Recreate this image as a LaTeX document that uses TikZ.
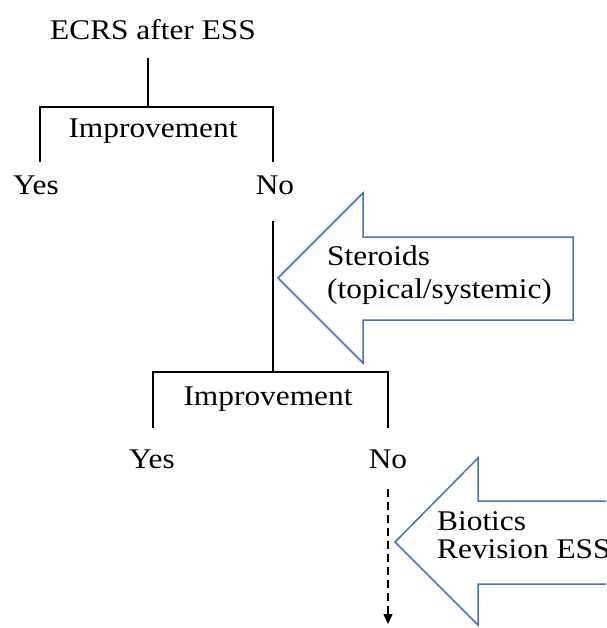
\documentclass[tikz,border=0pt]{standalone}
\usepackage{fontspec}
\setmainfont{Liberation Serif}
\usetikzlibrary{arrows.meta}
\definecolor{arrowblue}{RGB}{68,114,196}
\newcommand{\wtxt}[1]{\scalebox{1.1}[1]{#1}}
\begin{document}
\begin{tikzpicture}[x=1pt,y=-1pt,
  lbl/.style={font=\fontsize{28.5}{30}\selectfont, inner sep=0pt, anchor=base},
  lblw/.style={lbl, anchor=base west},
  treeline/.style={line width=1.6pt, black},
  blockarrow/.style={draw=arrowblue, line width=1.5pt, fill=white, line join=miter}]
\useasboundingbox (0,0) rectangle (606,628);
\clip (0,0) rectangle (606,628);
\fill[white] (0,0) rectangle (606,628);

% texts
\node[lbl] (ecrs) at (153,40) {\wtxt{ECRS after ESS}};
\node[lbl] (imp1) at (153,138) {\wtxt{Improvement}};
\node[lbl] (yes1) at (36,195) {\wtxt{Yes}};
\node[lbl] (no1) at (275,195) {\wtxt{No}};
\node[lbl] (imp2) at (268,405) {\wtxt{Improvement}};
\node[lbl] (yes2) at (152,468) {\wtxt{Yes}};
\node[lbl] (no2) at (388,468) {\wtxt{No}};

% tree coordinates
\coordinate (a0) at (148,58);
\coordinate (a1) at (148,107);
\coordinate (aL) at (40,107);
\coordinate (aR) at (273,107);
\coordinate (aLb) at (40,162);
\coordinate (aRb) at (273,162);
\coordinate (b0) at (273,221);
\coordinate (b1) at (273,372);
\coordinate (bL) at (153,372);
\coordinate (bR) at (388,372);
\coordinate (bLb) at (153,428);
\coordinate (bRb) at (388,428);
\coordinate (c0) at (388,489);
\coordinate (c1) at (388,624);

\draw[treeline] (a0) -- (a1);
\draw[treeline] (aLb) -- (aL) -- (aR) -- (aRb);
\draw[treeline] (b0) -- (b1);
\draw[treeline] (bLb) -- (bL) -- (bR) -- (bRb);
\draw[line width=1.5pt, dash pattern=on 8pt off 5pt,
      -{Triangle[length=10pt,width=9pt]}] (c0) -- (c1);

% block arrows
\draw[blockarrow] (278,278) -- (363,193) -- (363,237) -- (573,237)
  -- (573,320) -- (363,320) -- (363,363) -- cycle;
\draw[blockarrow] (395,542) -- (478,458) -- (478,501) -- (625,501)
  -- (625,584) -- (478,584) -- (478,625) -- cycle;

\node[lblw] (st1) at (327,265) {\wtxt{Steroids}};
\node[lblw] (st2) at (327,298) {\wtxt{(topical/systemic)}};
\node[lblw] (bi1) at (437,530) {\wtxt{Biotics}};
\node[lblw] (bi2) at (437,558) {\wtxt{Revision ESS}};
\end{tikzpicture}
\end{document}
